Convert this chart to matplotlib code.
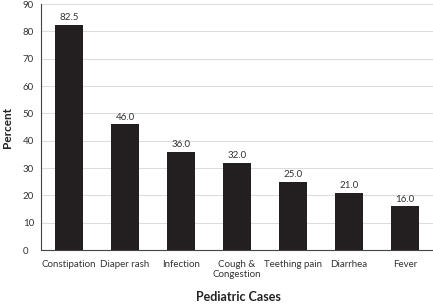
import matplotlib
matplotlib.use("Agg")
import matplotlib.pyplot as plt

categories = ["Constipation", "Diaper rash", "Infection", "Cough &\nCongestion",
              "Teething pain", "Diarrhea", "Fever"]
values = [82.5, 46.0, 36.0, 32.0, 25.0, 21.0, 16.0]
yticks = [0, 10, 20, 30, 40, 50, 60, 70, 80, 90]

plt.rcParams['font.family'] = ['Lato', 'DejaVu Sans']

fig = plt.figure(figsize=(4.33, 3.04), dpi=100)
ax = fig.add_axes([41/433, 1-250/304, 1-41/433, 246/304])

x = list(range(len(categories)))
ax.bar(x, values, width=0.5, color="#231f20", zorder=3)
for xi, v in zip(x, values):
    ax.text(xi, v + 0.8, f"{v:.1f}", ha="center", va="bottom", fontsize=7, color="#333333")

ax.set_xlim(-0.5, 6.5)
ax.set_ylim(0, 90)
ax.set_yticks(yticks)
ax.set_xticks(x)
ax.set_xticklabels(categories, fontsize=7, color="#333333")
ax.tick_params(axis="y", labelsize=7, labelcolor="#333333", length=0, pad=13)
ax.tick_params(axis="x", length=0, pad=7)
for lab in ax.get_yticklabels():
    lab.set_horizontalalignment("left")
ax.grid(axis="y", color="#dddddd", linewidth=0.8, zorder=0)
for s in ["top", "right"]:
    ax.spines[s].set_visible(False)
ax.spines["left"].set_color("#444444")
ax.spines["bottom"].set_color("#444444")
ax.spines["left"].set_linewidth(0.8)
ax.spines["bottom"].set_linewidth(0.8)

fig.text(8/433, 1-127/304, "Percent", rotation=90, ha="center", va="center",
         fontsize=8.5, fontweight="bold", color="#222222")
fig.text(238/433, 1-297/304, "Pediatric Cases", ha="center", va="center",
         fontsize=9, fontweight="bold", color="#222222")

fig.savefig("out.png", dpi=100)
